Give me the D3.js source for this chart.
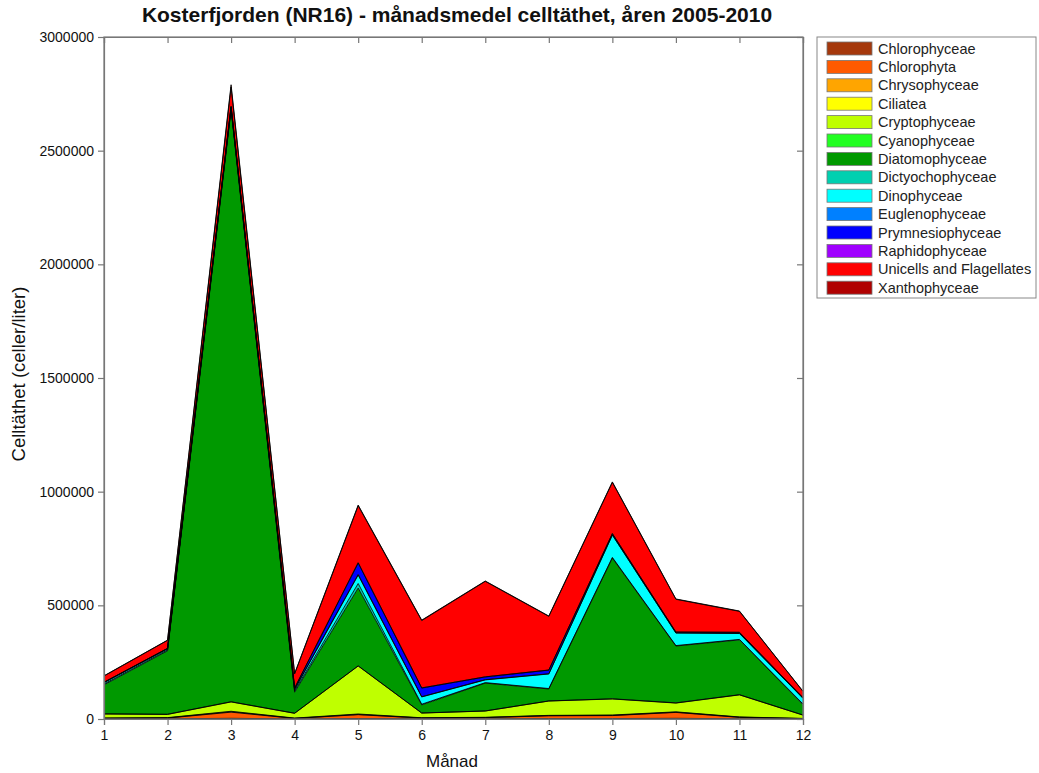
<!DOCTYPE html>
<html><head><meta charset="utf-8">
<script src="https://cdn.jsdelivr.net/npm/d3@7"></script>
<style>body{margin:0;background:#fff;font-family:Arial,"Liberation Sans",sans-serif;}</style>
</head><body><svg id="c" width="1039" height="773"></svg>
<script>
const months = [1,2,3,4,5,6,7,8,9,10,11,12];
const seriesNames = ["Chlorophyceae","Chlorophyta","Chrysophyceae","Ciliatea","Cryptophyceae","Cyanophyceae","Diatomophyceae","Dictyochophyceae","Dinophyceae","Euglenophyceae","Prymnesiophyceae","Raphidophyceae","Unicells and Flagellates","Xanthophyceae"];
const seriesColors = ["#A5380C","#FF5A00","#FFA500","#FFFF00","#BFFF00","#22FF22","#009900","#00D0B0","#00FFFF","#0080FF","#0000FF","#A000FF","#FF0000","#B00000"];
const Chlorophyceae    = [500,1000,3000,500,2000,1000,1000,2000,2000,3000,1000,500];
const Chlorophyta      = [2000,3000,27000,2000,17000,3000,5000,12000,13000,26000,6000,1000];
const Chrysophyceae    = [1000,1000,2000,500,1000,500,500,1000,1000,1000,1000,500];
const Ciliatea         = [1000,1000,2000,1000,2000,1000,1000,1000,1500,1500,1000,500];
const Cryptophyceae    = [17500,14000,41000,21000,211000,20500,27500,63000,70500,38500,97000,14500];
const Cyanophyceae     = [500,1000,1000,500,1000,500,500,500,1000,1000,1000,500];
const Diatomophyceae   = [127500,279000,2604000,92500,342000,35500,122500,52500,619000,250000,241000,45500];
const Dictyochophyceae = [4000,4000,5000,6000,20000,3000,2000,2000,3000,2000,2000,3000];
const Dinophyceae      = [6000,5000,5000,6000,37000,32000,12000,64000,98000,55000,26000,25000];
const Euglenophyceae   = [500,500,1000,1000,3000,1000,1000,1000,1000,1000,1000,500];
const Prymnesiophyceae = [1000,1000,3000,5000,50000,38000,12000,16000,5000,3000,4000,2000];
const Raphidophyceae   = [500,500,1000,1000,2000,1000,500,500,1000,500,500,500];
const Unicells         = [27000,35000,85000,62000,250000,296000,420000,236000,225000,144000,92000,27000];
const Xanthophyceae    = [1000,1000,10000,1000,3000,2000,1500,1500,2000,1500,1500,1000];
const yTicks = [0,500000,1000000,1500000,2000000,2500000,3000000];

const seriesValues = [Chlorophyceae,Chlorophyta,Chrysophyceae,Ciliatea,Cryptophyceae,Cyanophyceae,Diatomophyceae,Dictyochophyceae,Dinophyceae,Euglenophyceae,Prymnesiophyceae,Raphidophyceae,Unicells,Xanthophyceae];
const rows = months.map((m,i)=>{const r={month:m}; seriesNames.forEach((n,j)=>r[n]=seriesValues[j][i]); return r;});

const svg = d3.select("#c");
const L=104, R=803, T=37, B=719;
const x = d3.scaleLinear().domain([1,12]).range([L,R]);
const y = d3.scaleLinear().domain([0,3000000]).range([B,T]);
const stack = d3.stack().keys(seriesNames)(rows);
const area = d3.area().x(d=>x(d.data.month)).y0(d=>y(d[0])).y1(d=>y(d[1]));
const line = d3.line().x(d=>x(d.data.month)).y(d=>y(d[1]));

const g = svg.append("g");
stack.forEach((s,i)=>{
  g.append("path").datum(s).attr("d",area).attr("fill",seriesColors[i]).attr("stroke","none");
});
stack.forEach((s,i)=>{
  g.append("path").datum(s).attr("d",line).attr("fill","none").attr("stroke","#000").attr("stroke-width",1).attr("stroke-opacity",0.85);
});

// frame
const axCol="#777";
svg.append("rect").attr("x",L).attr("y",T).attr("width",R-L).attr("height",B-T).attr("fill","none").attr("stroke",axCol).attr("stroke-width",1.2);

const xAxis = svg.append("g").attr("transform",`translate(0,${B})`).call(d3.axisBottom(x).tickValues(months).tickFormat(d3.format("d")).tickSize(6).tickPadding(5));
const yAxis = svg.append("g").attr("transform",`translate(${L},0)`).call(d3.axisLeft(y).tickValues(yTicks).tickFormat(d3.format("d")).tickSize(6).tickPadding(4));
const xTop = svg.append("g").attr("transform",`translate(0,${T})`).call(d3.axisBottom(x).tickValues(months).tickFormat("").tickSize(6));
const yRight = svg.append("g").attr("transform",`translate(${R},0)`).call(d3.axisLeft(y).tickValues(yTicks).tickFormat("").tickSize(6));
[xAxis,yAxis,xTop,yRight].forEach(a=>{
  a.select(".domain").attr("stroke",axCol).attr("stroke-width",1.2);
  a.selectAll(".tick line").attr("stroke",axCol).attr("stroke-width",1.2);
  a.selectAll("text").attr("font-family","Arial, 'Liberation Sans', sans-serif").attr("font-size",14).attr("fill","#111");
});

svg.append("text").attr("x",457).attr("y",22).attr("text-anchor","middle").attr("font-size",21).attr("font-weight","bold").attr("fill","#111").text("Kosterfjorden (NR16) - månadsmedel celltäthet, åren 2005-2010");
svg.append("text").attr("x",452).attr("y",767).attr("text-anchor","middle").attr("font-size",17).attr("fill","#111").text("Månad");
svg.append("text").attr("transform","translate(25,374) rotate(-90)").attr("text-anchor","middle").attr("font-size",18.5).attr("fill","#111").text("Celltäthet (celler/liter)");

// legend
const lg = svg.append("g");
lg.append("rect").attr("x",817).attr("y",37).attr("width",219).attr("height",261).attr("fill","#fff").attr("stroke","#888").attr("stroke-width",1);
seriesNames.forEach((n,i)=>{
  const yy = 42 + i*18.4;
  lg.append("rect").attr("x",827).attr("y",yy).attr("width",45).attr("height",13).attr("fill",seriesColors[i]).attr("stroke","#777").attr("stroke-width",0.8);
  lg.append("text").attr("x",878).attr("y",yy+11.5).attr("font-size",14.5).attr("fill","#222").text(n);
});
</script></body></html>
